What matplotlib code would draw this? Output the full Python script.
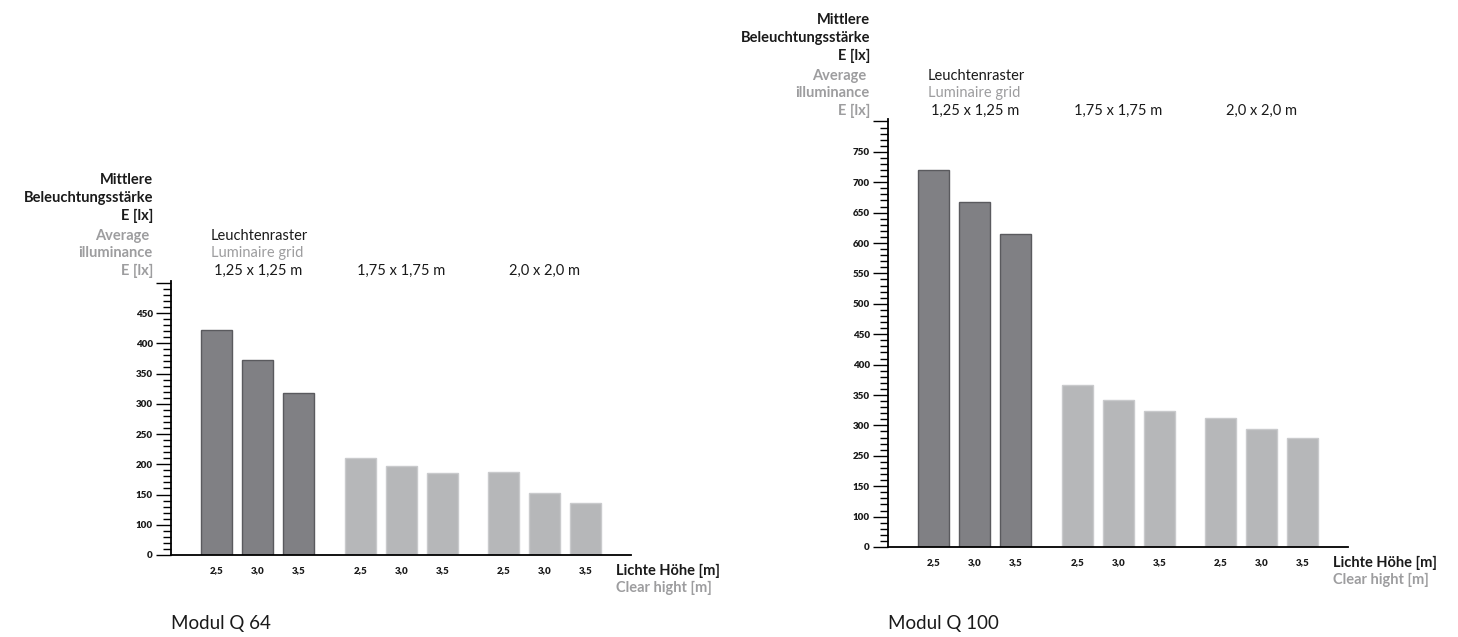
import matplotlib
matplotlib.use("Agg")
import matplotlib.pyplot as plt
from matplotlib.ticker import FixedLocator, FixedFormatter, MultipleLocator
from matplotlib import transforms

# ---------------- data ----------------
heights = ["2,5", "3,0", "3,5"]
grids = ["1,25 x 1,25 m", "1,75 x 1,75 m", "2,0 x 2,0 m"]

q64_values = [422, 372, 318, 211, 197, 185, 188, 153, 136]
q100_values = [720, 668, 615, 367, 342, 323, 313, 294, 280]

q64_tick_pos = [50, 100, 150, 200, 250, 300, 350, 400, 450, 500]
q64_tick_lab = ["0", "100", "150", "200", "250", "300", "350", "400", "450", ""]
q100_tick_pos = [100, 150, 200, 250, 300, 350, 400, 450, 500, 550, 600, 650, 700, 750, 800]
q100_tick_lab = ["0", "100", "150", "250", "300", "350", "400", "450", "500", "550",
                 "600", "650", "700", "750", ""]

titles = ["Modul Q 64", "Modul Q 100"]

# ---------------- style ----------------
W, H = 1458, 637
FONT = ["Lato", "DejaVu Sans"]
plt.rcParams["font.family"] = FONT
BLACK = "#1a1a1a"
GREY = "#9d9d9f"
DARK = "#808084"
DARK_EDGE = "#5a5a5e"
LIGHT = "#b6b7b9"
LIGHT_EDGE = "#c9cacc"
FS = 10.5

fig = plt.figure(figsize=(W / 100, H / 100), dpi=100)


def fx(x):
    return x / W


def fy(y):
    return 1 - y / H


def draw_chart(rect, values, ylim, tpos, tlab, title, offs):
    ax0, ay0, ax1, ay1 = rect  # pixel box: left, top, right, bottom
    ax = fig.add_axes([fx(ax0), fy(ay1), fx(ax1 - ax0), (ay1 - ay0) / H])
    xs = [g * 3.5 + i for g in range(3) for i in range(3)]
    cols = [DARK if k < 3 else LIGHT for k in range(9)]
    edges = [DARK_EDGE if k < 3 else LIGHT_EDGE for k in range(9)]
    ax.bar(xs, values, width=0.756, color=cols, edgecolor=edges, linewidth=1.0)
    ax.set_xlim(-1.12, 10.1)
    ax.set_ylim(*ylim)
    for s in ["top", "right"]:
        ax.spines[s].set_visible(False)
    ax.spines["left"].set_linewidth(1.3)
    ax.spines["bottom"].set_linewidth(1.3)
    ax.yaxis.set_major_locator(FixedLocator(tpos))
    ax.yaxis.set_major_formatter(FixedFormatter(tlab))
    ax.yaxis.set_minor_locator(MultipleLocator(10))
    ax.tick_params(axis="y", which="major", length=11, width=1.0, pad=2,
                   labelsize=7, labelcolor=BLACK)
    ax.tick_params(axis="y", which="minor", length=6, width=1.0)
    for lbl in ax.get_yticklabels():
        lbl.set_fontweight("heavy")
    ax.set_xticks(xs)
    ax.set_xticklabels(heights * 3, fontsize=7, fontweight="heavy", color=BLACK)
    ax.tick_params(axis="x", length=0, pad=8)

    dy = offs
    # y-axis label block
    yl = [("Mittlere", BLACK, 180), ("Beleuchtungsstärke", BLACK, 198), ("E [lx]", BLACK, 216),
          ("Average ", GREY, 236), ("illuminance", GREY, 253), ("E [lx]", GREY, 271)]
    for txt, c, yy in yl:
        fig.text(fx(ax0 - 18), fy(yy + dy), txt, ha="right", va="center",
                 fontsize=FS, fontweight="bold", color=c)
    # grid header
    lx = ax0 + 40
    fig.text(fx(lx), fy(236 + dy), "Leuchtenraster", ha="left", va="center",
             fontsize=FS, color=BLACK)
    fig.text(fx(lx), fy(253 + dy), "Luminaire grid", ha="left", va="center",
             fontsize=FS, color=GREY)
    tr = transforms.blended_transform_factory(ax.transData, fig.transFigure)
    for g, name in enumerate(grids):
        ax.text(g * 3.5 + 1, fy(271 + dy), name, transform=tr, ha="center",
                va="center", fontsize=FS, color=BLACK)
    # x-axis label
    fig.text(fx(ax1 - 15), fy(ay1 + 16), "Lichte Höhe [m]", ha="left", va="center",
             fontsize=FS, fontweight="bold", color=BLACK)
    fig.text(fx(ax1 - 15), fy(ay1 + 33), "Clear hight [m]", ha="left", va="center",
             fontsize=FS, fontweight="bold", color=GREY)
    # title
    fig.text(fx(ax0), fy(624), title, ha="left", va="center", fontsize=13.5, color=BLACK)
    return ax


draw_chart((171, 281, 631, 555), q64_values, (50, 503), q64_tick_pos, q64_tick_lab,
           titles[0], 0)
draw_chart((888, 119, 1348, 547), q100_values, (100, 804), q100_tick_pos, q100_tick_lab,
           titles[1], -160)

fig.savefig("out.png", dpi=100)
